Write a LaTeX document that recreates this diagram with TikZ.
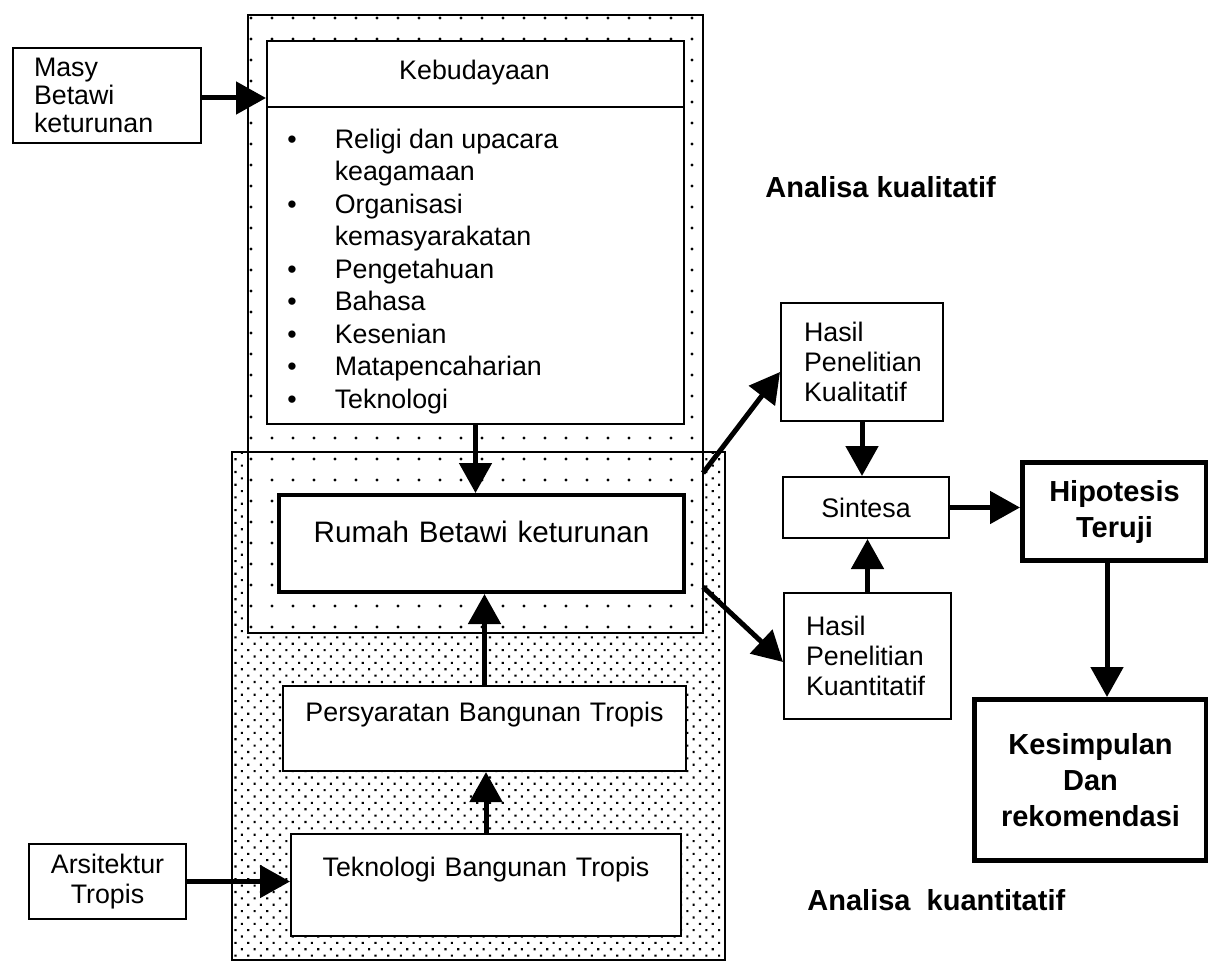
\documentclass[tikz,border=0pt]{standalone}
\usepackage{fontspec}
\setmainfont{Liberation Sans}
\usetikzlibrary{arrows.meta,patterns.meta}
\tikzset{
  kotak/.style={draw,line width=1pt,fill=white,inner sep=0pt,anchor=north west,align=center,font=\fontsize{13.4}{15}\selectfont},
  tebal/.style={kotak,line width=2.5pt,font=\bfseries\fontsize{14.5}{18}\selectfont},
  panah/.style={line width=2.5pt,-{Triangle[length=15pt,width=16pt]}},
  judul/.style={font=\bfseries\fontsize{14.5}{18}\selectfont,anchor=west,inner sep=0pt},
}
\begin{document}
\begin{tikzpicture}[x=0.5pt,y=-0.5pt]
\useasboundingbox (0,0) rectangle (1208,962);
%%%%
\fill[pattern={Dots[angle=45,distance=4.5pt,radius=0.75pt]}] (232,452) rectangle (725,960);
\fill[white] (248,15) rectangle (703,633);
\fill[pattern={Dots[distance=10.5pt,radius=0.85pt]}] (248,15) rectangle (703,633);
\draw[line width=1pt] (248,15) rectangle (703,633);
\draw[line width=1pt] (232,452) rectangle (725,960);
%%%%
\node[kotak,align=left,text width=73pt,inner xsep=10.5pt,minimum height=47.5pt,font=\fontsize{13.4}{14}\selectfont] (masy) at (12,47) {Masy\\Betawi\\keturunan};
\node[kotak,minimum width=208.5pt,minimum height=191.5pt] (kebud) at (266,40) {};
\draw[line width=1pt] (kebud.west |- 0,107) -- (kebud.east |- 0,107);
\node[font=\fontsize{13.4}{15}\selectfont] (kebudjudul) at (474.5,73) {Kebudayaan};
\node[anchor=north west,inner sep=0pt,font=\fontsize{13.4}{16.25}\selectfont] (daftar) at (287,125) {%
\begin{tabular}{@{}l@{\hspace{19pt}}l@{}}
\textbullet & Religi dan upacara\\
 & keagamaan\\
\textbullet & Organisasi\\
 & kemasyarakatan\\
\textbullet & Pengetahuan\\
\textbullet & Bahasa\\
\textbullet & Kesenian\\
\textbullet & Matapencaharian\\
\textbullet & Teknologi
\end{tabular}};
\node[kotak,line width=2pt,font=\fontsize{14.8}{18}\selectfont,text width=202.5pt,text height=23.5pt,text depth=25pt] (rumah) at (277,493) {Rumah Betawi keturunan};
\node[kotak,text width=201.5pt,text height=17.5pt,text depth=25pt] (persy) at (282,685) {Persyaratan Bangunan Tropis};
\node[kotak,text width=195pt,text height=21pt,text depth=30pt] (tekno) at (290,833) {Teknologi Bangunan Tropis};
\node[kotak,minimum width=78.5pt,minimum height=37.5pt] (arsi) at (28,843) {Arsitektur\\Tropis};
%%%%
\node[kotak,align=left,text width=58pt,inner xsep=11.5pt,minimum height=59pt] (hkual) at (780,302) {Hasil\\Penelitian\\Kualitatif};
\node[kotak,minimum width=83pt,minimum height=30.5pt] (sintesa) at (782,476) {Sintesa};
\node[kotak,align=left,text width=61.5pt,inner xsep=11pt,minimum height=63pt] (hkuan) at (783,592) {Hasil\\Penelitian\\Kuantitatif};
\node[tebal,minimum width=92pt,minimum height=49pt] (hipo) at (1020,460) {Hipotesis\\Teruji};
\node[tebal,minimum width=116pt,minimum height=80.5pt] (kesim) at (972,697) {Kesimpulan\\Dan\\rekomendasi};
\node[judul] (akual) at (765,187) {Analisa kualitatif};
\node[judul] (akuan) at (807,900) {Analisa~ kuantitatif};
%%%%
\coordinate (q1) at (703,473);
\coordinate (q2) at (703,587);
\draw[panah] (masy.east |- 0,98) -- (kebud.west |- 0,98);
\draw[panah] (kebud.south) -- (kebud.south |- rumah.north);
\draw[panah] (persy.north) -- (persy.north |- rumah.south);
\draw[panah] (tekno.north) -- (tekno.north |- persy.south);
\draw[panah] (arsi.east) -- (arsi.east -| tekno.west);
\draw[panah] (q1) -- (hkual.west |- 0,372);
\draw[panah] (q2) -- (hkuan.west |- 0,662);
\draw[panah] (hkual.south) -- (hkual.south |- sintesa.north);
\draw[panah] (hkuan.north) -- (hkuan.north |- sintesa.south);
\draw[panah] (sintesa.east) -- (sintesa.east -| hipo.west);
\draw[panah] (hipo.south -| 1107,0) -- (kesim.north -| 1107,0);
\end{tikzpicture}
\end{document}
